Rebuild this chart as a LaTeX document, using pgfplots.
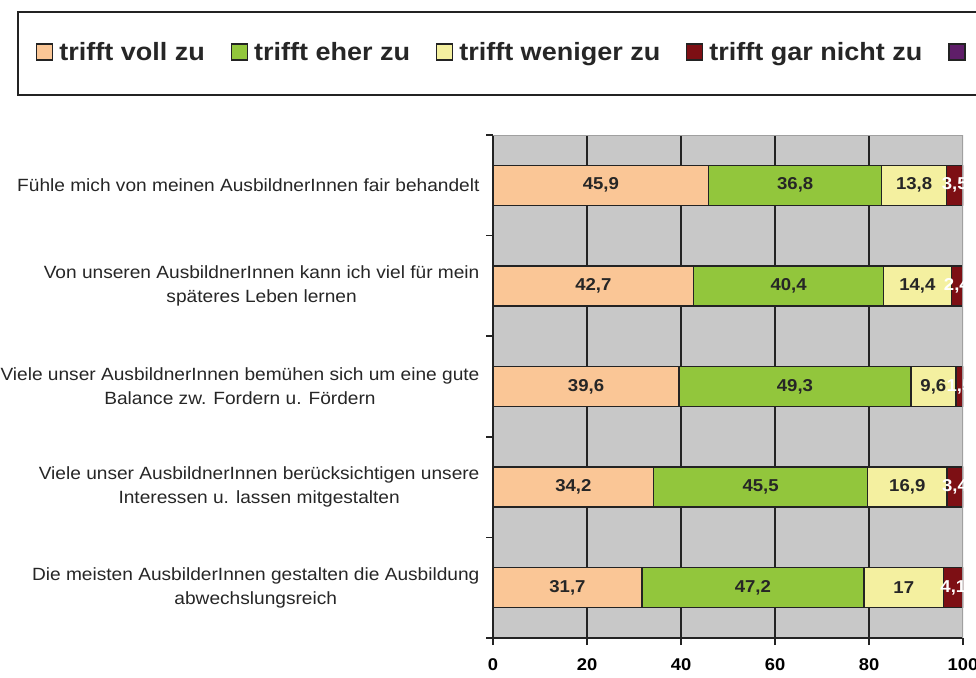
\documentclass[border=0pt]{standalone}
\usepackage{fontspec}
\setmainfont{Liberation Sans}[FakeStretch=1.08]
\usepackage{pgfplots}
\usepackage{pgfplotstable}
\pgfplotsset{compat=1.18}
\definecolor{bgc}{RGB}{200,200,200}
\definecolor{c1}{RGB}{250,198,150}
\definecolor{c2}{RGB}{146,198,60}
\definecolor{c3}{RGB}{244,240,160}
\definecolor{c4}{RGB}{125,15,20}
\definecolor{c5}{RGB}{95,30,105}
\definecolor{edge}{RGB}{35,35,35}
\definecolor{lgray}{RGB}{160,160,160}

\pgfplotstableread{
y voll eher weniger gar
5 45.9 36.8 13.8 3.5
4 42.7 40.4 14.4 2.4
3 39.6 49.3 9.6 1.5
2 34.2 45.5 16.9 3.4
1 31.7 47.2 17 4.1
}\data

\pgfplotsset{sqlegend/.style={legend image code/.code={\draw[##1,line width=1.2pt,draw=edge] (0pt,-8pt) rectangle (16pt,8pt);}}}

\begin{document}
\begin{tikzpicture}
\useasboundingbox (0pt,0pt) rectangle (976pt,-677pt);
\draw[line width=1.5pt, edge] (18pt,-12pt) rectangle (1100pt,-95pt);
\begin{axis}[
  at={(493pt,-638pt)}, anchor=south west,
  scale only axis, width=470pt, height=503pt,
  xbar stacked, bar width=40pt,
  xmin=0, xmax=100, ymin=0.5, ymax=5.5,
  axis x line*=bottom, axis y line*=left,
  axis line style={line width=1.5pt, draw=edge, -},
  axis background/.style={fill=bgc},
  xtick={0,20,40,60,80}, extra x ticks={100}, extra x tick style={grid=none},
  xmajorgrids, grid style={line width=1.5pt, draw=edge},
  /pgf/number format/assume math mode=true,
  /pgf/number format/use comma,
  xticklabel style={font=\bfseries\fontsize{17}{18}\selectfont, yshift=-10pt},
  ytick={1,2,3,4,5},
  yticklabels={{Die meisten AusbilderInnen gestalten die Ausbildung\\abwechslungsreich},
    {Viele unser AusbildnerInnen berücksichtigen unsere\\Interessen u. lassen mitgestalten},
    {Viele unser AusbildnerInnen bemühen sich um eine gute\\Balance zw. Fordern u. Fördern},
    {Von unseren AusbildnerInnen kann ich viel für mein\\späteres Leben lernen},
    {Fühle mich von meinen AusbildnerInnen fair behandelt}},
  yticklabel style={align=center, anchor=east, font=\fontsize{17.7}{24}\selectfont, xshift=-3pt, text=black!85},
  minor ytick={0.5,1.5,2.5,3.5,4.5,5.5},
  tick align=outside, major tick length=7pt, minor tick length=7pt,
  every major y tick/.append style={draw=none},
  tick style={line width=1.5pt, draw=edge},
  nodes near coords,
  every node near coord/.append style={font=\bfseries\fontsize{17.2}{18}\selectfont, text=black!85},
  legend columns=-1,
  legend style={at={(-0.9723,1.165)}, anchor=west, draw=none, fill=none, inner sep=0pt,
    font=\bfseries\fontsize{25}{28}\selectfont, text=black!85,
    /tikz/every odd column/.append style={column sep=4pt},
    /tikz/every even column/.append style={column sep=24pt}},
]
\draw[lgray, line width=1.5pt] (rel axis cs:0,1) -- (rel axis cs:1,1) -- (rel axis cs:1,0);
\addplot[fill=c1, draw=edge, line width=1.5pt, sqlegend] table[x=voll, y=y]{\data};
\addlegendentry{trifft voll zu}
\addplot[fill=c2, draw=edge, line width=1.5pt, sqlegend] table[x=eher, y=y]{\data};
\addlegendentry{trifft eher zu}
\addplot[fill=c3, draw=edge, line width=1.5pt, sqlegend] table[x=weniger, y=y]{\data};
\addlegendentry{trifft weniger zu}
\addplot[fill=c4, draw=edge, line width=1.5pt, sqlegend, every node near coord/.append style={text=white}] table[x=gar, y=y]{\data};
\addlegendentry{trifft gar nicht zu}
\addlegendimage{fill=c5, draw=edge, sqlegend}
\addlegendentry{}
\end{axis}
\end{tikzpicture}
\end{document}
